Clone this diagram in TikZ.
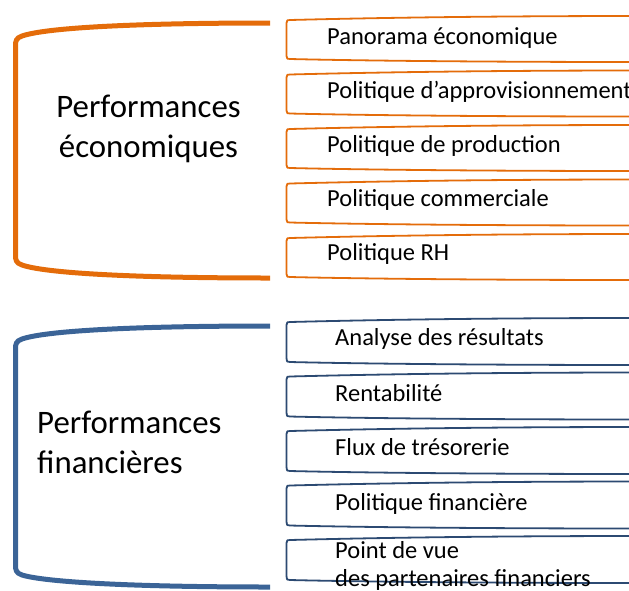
\documentclass[tikz,border=0pt]{standalone}
\usepackage{fontspec}
\setmainfont{Carlito}
\definecolor{ecoorange}{HTML}{E46C0A}
\definecolor{finblue}{HTML}{3B6497}
\definecolor{finbox}{HTML}{2C4A72}
\tikzset{
  bracket/.style={line width=5pt,line cap=butt,line join=round},
  itembox/.style={line width=1.8pt,line join=round},
  itemtext/.style={anchor=base west,inner sep=0pt,font=\fontsize{24.5}{28}\selectfont,align=left},
  grouptext/.style={inner sep=0pt,font=\fontsize{32.8}{39.5}\selectfont}
}
\begin{document}
\begin{tikzpicture}[x=1pt,y=-1pt]
    \useasboundingbox (0,0) rectangle (629,590);
    \clip (0,0) rectangle (629,590);
    %% economic bracket
    \draw[bracket,ecoorange] (270,23) .. controls (130,23) and (45,28) .. (22,36)
        .. controls (16,38) and (15.5,41) .. (15.5,46) -- (15.5,255)
        .. controls (15.5,260) and (16,263) .. (22,265)
        .. controls (45,273) and (130,278) .. (270,278);
    \node[grouptext,anchor=base,align=center] (eco) at (148.5,157) {Performances\\économiques};
    %% economic items
    \foreach \i/\txt in {0/Panorama économique,1/Politique d’approvisionnement,
                         2/Politique de production,3/Politique commerciale,4/Politique RH}{
        \draw[itembox,ecoorange] (640,{16+54.5*\i}) .. controls (450,{16+54.5*\i}) and (330,{19+54.5*\i}) .. (290,{20+54.5*\i})
            .. controls (287,{20+54.5*\i}) .. (286.5,{23+54.5*\i}) -- (286.5,{56+54.5*\i})
            .. controls (287,{59+54.5*\i}) .. (290,{59+54.5*\i})
            .. controls (330,{60+54.5*\i}) and (450,{62+54.5*\i}) .. (640,{62+54.5*\i});
        \node[itemtext] (eco\i) at (327,{44+54.2*\i}) {\txt};
    }
    %% financial bracket
    \draw[bracket,finblue] (270,326) .. controls (130,326) and (45,331) .. (22,339)
        .. controls (16,341) and (15.5,344) .. (15.5,349) -- (15.5,565)
        .. controls (15.5,570) and (16,573) .. (22,575)
        .. controls (45,582) and (130,587) .. (270,587);
    \node[grouptext,anchor=base west,align=left] (fin) at (37,473) {Performances\\financières};
    %% financial items
    \foreach \i in {0,...,4}{
        \draw[itembox,finbox] (640,{318+54.5*\i}) .. controls (450,{318+54.5*\i}) and (330,{321+54.5*\i}) .. (290,{322+54.5*\i})
            .. controls (287,{322+54.5*\i}) .. (286.5,{325+54.5*\i}) -- (286.5,{358+54.5*\i})
            .. controls (287,{362+54.5*\i}) .. (290,{362+54.5*\i})
            .. controls (330,{363+54.5*\i}) and (450,{365+54.5*\i}) .. (640,{365+54.5*\i});
    }
    \node[itemtext] (fin0) at (335,345) {Analyse des résultats};
    \node[itemtext] (fin1) at (335,401) {Rentabilité};
    \node[itemtext] (fin2) at (335,455) {Flux de trésorerie};
    \node[itemtext] (fin3) at (335,510) {Politique financière};
    \node[itemtext] (fin4) at (335,586) {Point de vue\\des partenaires financiers};
\end{tikzpicture}
\end{document}
